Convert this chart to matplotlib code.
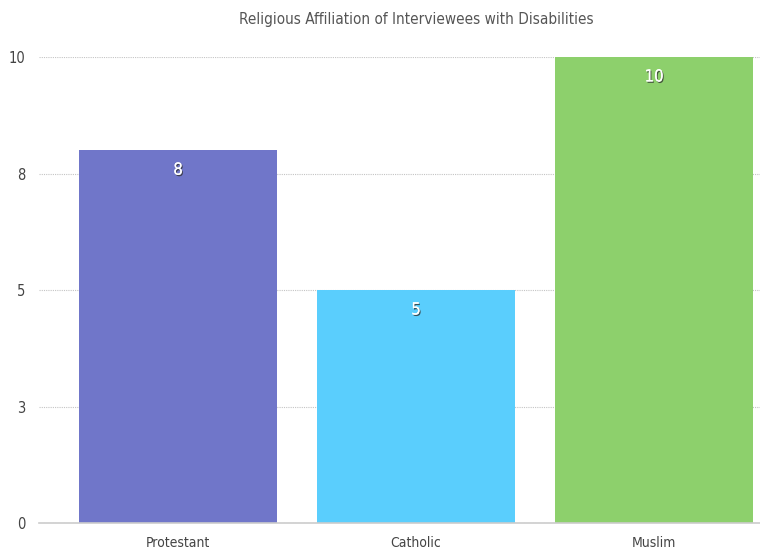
import matplotlib.pyplot as plt
import matplotlib.patheffects as pe

categories = ["Protestant", "Catholic", "Muslim"]
counts = [8, 5, 10]
colors = ["#7076c9", "#5acefd", "#8dd06c"]
ytick_vals = [0, 2.5, 5, 7.5, 10]
ytick_labels = ["0", "3", "5", "8", "10"]

plt.rcParams['font.family'] = ['DejaVu Sans']
plt.rcParams['font.stretch'] = 'condensed'

fig = plt.figure(figsize=(7.6, 5.53), dpi=100)
ax = fig.add_axes([0.0513, 0.0542, 0.9487, 0.8427])

x = list(range(len(categories)))
bars = ax.bar(x, counts, width=0.832, color=colors, zorder=2)

for xi, v in zip(x, counts):
    ax.annotate(str(v), (xi, v), xytext=(0, -14), textcoords="offset points",
                ha="center", va="center", fontsize=12, color="white",
                path_effects=[pe.withSimplePatchShadow(offset=(0.8, -1), shadow_rgbFace="#333333", alpha=0.8),
                              pe.Normal()], zorder=3)

ax.set_xlim(-0.584, 2.445)
ax.set_ylim(0, 10)
ax.set_xticks(x)
ax.set_xticklabels(categories)
ax.set_yticks(ytick_vals)
ax.set_yticklabels(ytick_labels)
ax.tick_params(length=0, labelsize=10, colors="#444444", pad=9)
ax.tick_params(axis="y", pad=10, labelsize=10.5)

ax.grid(axis="y", linestyle=(0, (1, 1)), color="#c4c4c4", linewidth=0.8, zorder=1)
for s in ["top", "right", "left"]:
    ax.spines[s].set_visible(False)
ax.spines["bottom"].set_color("#cccccc")
ax.spines["bottom"].set_linewidth(1.2)

fig.suptitle("Religious Affiliation of Interviewees with Disabilities", x=0.548, y=0.978,
             fontsize=11, color="#555555")

fig.savefig("out.png", dpi=100)
